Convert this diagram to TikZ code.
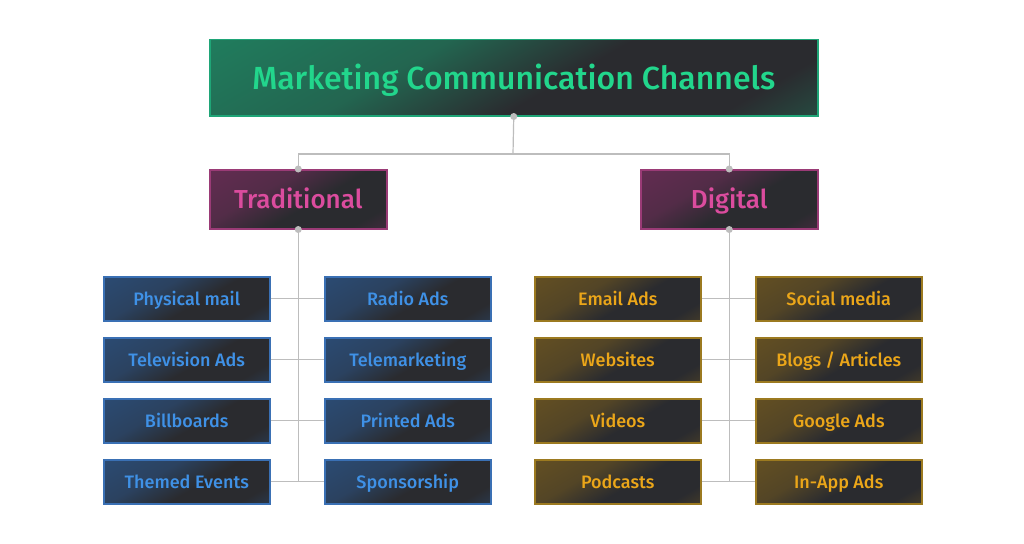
\documentclass[tikz,border=0pt]{standalone}
\usepackage{fontspec}
\setmainfont{Fira Sans}[UprightFont={* Medium}]
\begin{document}
\begin{tikzpicture}[x=1pt,y=-1pt]
\definecolor{dk}{HTML}{2A2B2F}
\definecolor{gB}{HTML}{1E8C66}\definecolor{gT}{HTML}{22D68C}\definecolor{gE}{HTML}{1FA577}
\definecolor{pB}{HTML}{6E2C58}\definecolor{pT}{HTML}{DB4C9E}\definecolor{pE}{HTML}{9A3B76}
\definecolor{bB}{HTML}{2B5180}\definecolor{bT}{HTML}{3F91E6}\definecolor{bE}{HTML}{3A70B4}
\definecolor{yB}{HTML}{6E5620}\definecolor{yT}{HTML}{EBA619}\definecolor{yE}{HTML}{9C7A20}
\definecolor{ln}{HTML}{BDBDBD}
\pgfdeclarehorizontalshading{gsh}{100bp}{color(0bp)=(gB);color(38bp)=(gB!60!dk);color(55bp)=(dk);color(75bp)=(dk);color(100bp)=(gB!85!dk)}
\pgfdeclarehorizontalshading{psh}{100bp}{color(0bp)=(pB);color(38bp)=(pB!60!dk);color(55bp)=(dk);color(75bp)=(dk);color(100bp)=(pB!90!dk)}
\pgfdeclarehorizontalshading{bsh}{100bp}{color(0bp)=(bB);color(38bp)=(bB!60!dk);color(55bp)=(dk);color(75bp)=(dk);color(100bp)=(bB!90!dk)}
\pgfdeclarehorizontalshading{ysh}{100bp}{color(0bp)=(yB);color(38bp)=(yB!60!dk);color(55bp)=(dk);color(75bp)=(dk);color(100bp)=(yB!90!dk)}
\tikzset{
 bx/.style={draw, line width=1.5pt, inner sep=0pt, anchor=north west, shading angle=-60, text depth=0pt},
 gbox/.style={bx, draw=gE, shading=gsh, text=gT, minimum width=608pt, minimum height=76pt, text height=23pt, font=\fontsize{32}{34}\selectfont},
 pbox/.style={bx, draw=pE, shading=psh, text=pT, minimum width=177pt, minimum height=59pt, text height=19pt, font=\fontsize{26}{28}\selectfont},
 bbox/.style={bx, draw=bE, shading=bsh, text=bT, minimum width=166pt, minimum height=44pt, text height=13pt, font=\fontsize{18}{20}\selectfont},
 ybox/.style={bx, draw=yE, shading=ysh, text=yT, minimum width=166pt, minimum height=44pt, text height=13pt, font=\fontsize{18}{20}\selectfont},
 cn/.style={draw=ln, line width=1.2pt},
 dot/.style={circle, fill=ln, inner sep=0pt, minimum size=7pt}
}
\fill[white] (0,0) rectangle (1024,543);
\node[gbox] (top) at (209,39) {Marketing Communication Channels};
\node[pbox] (trad) at (209,169) {Traditional};
\node[pbox] (dig) at (640,169) {Digital};
\foreach \t [count=\i from 0] in {Physical mail,Television Ads,Billboards,Themed Events}
  \node[bbox] (L\i) at (103,276+61*\i) {\t};
\foreach \t [count=\i from 0] in {Radio Ads,Telemarketing,Printed Ads,Sponsorship}
  \node[bbox] (R\i) at (324,276+61*\i) {\t};
\foreach \t [count=\i from 0] in {Email Ads,Websites,Videos,Podcasts}
  \node[ybox] (DL\i) at (534,276+61*\i) {\t};
\foreach \t [count=\i from 0] in {Social media,Blogs / Articles,Google Ads,In-App Ads}
  \node[ybox] (DR\i) at (755,276+61*\i) {\t};
\coordinate (j) at (513,154);
\draw[cn] (top.south) -- (j);
\draw[cn] (trad.north) |- (j) -| (dig.north);
\draw[cn] (trad.south) -- (trad.south |- L3.east);
\draw[cn] (dig.south) -- (dig.south |- DL3.east);
\foreach \i in {0,...,3} {
  \draw[cn] (L\i.east) -- (R\i.west);
  \draw[cn] (DL\i.east) -- (DR\i.west);
}
\foreach \n in {top.south,trad.north,trad.south,dig.north,dig.south}
  \node[dot] at (\n) {};
\end{tikzpicture}
\end{document}
